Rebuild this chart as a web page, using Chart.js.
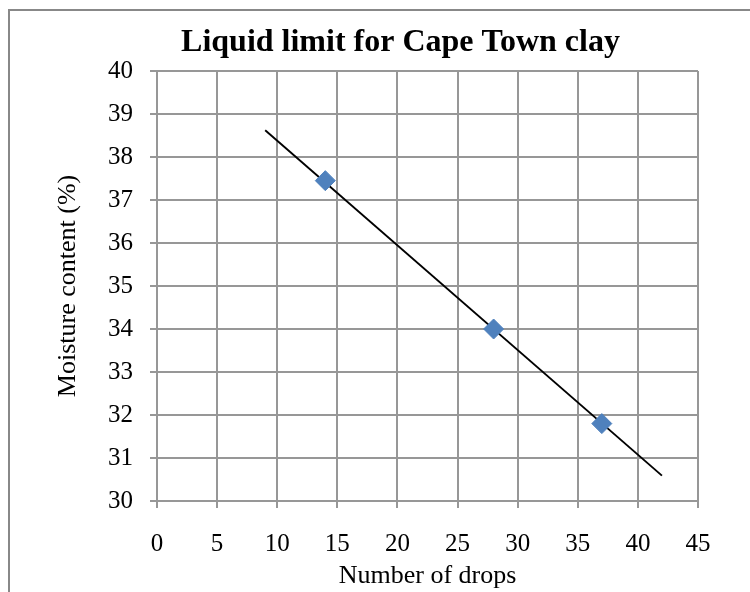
<!DOCTYPE html>
<html>
<head>
<meta charset="utf-8">
<script src="https://cdn.jsdelivr.net/npm/chart.js@4.4.0/dist/chart.umd.min.js"></script>
<style>
  html, body { margin: 0; padding: 0; background: #fff; }
  #wrap { width: 750px; height: 592px; position: relative; }
</style>
</head>
<body>
<div id="wrap"><canvas id="liquid-limit-chart"></canvas></div>
<script>
// measured points: drops vs moisture content
const drops = [14, 28, 37]
const moisture = [37.45, 34.0, 31.8]

// linear trendline end points
const trendDrops = [9, 42]
const trendMoisture = [38.62, 30.59]

const xMin = 0, xMax = 45, xStep = 5
const yMin = 30, yMax = 40, yStep = 1

const serif = "'Liberation Serif', 'Times New Roman', serif"
const gridGrey = '#979797'

// white background + the outer frame of the chart object
const framePlugin = {
  id: 'frame',
  beforeDraw(chart) {
    const ctx = chart.ctx
    ctx.save()
    ctx.fillStyle = '#fff'
    ctx.fillRect(0, 0, chart.width, chart.height)
    ctx.strokeStyle = '#888'
    ctx.lineWidth = 2
    ctx.strokeRect(9, 10, chart.width + 20, chart.height + 20)
    ctx.restore()
  }
}

const points = drops.map((d, i) => ({ x: d, y: moisture[i] }))
const trend = trendDrops.map((d, i) => ({ x: d, y: trendMoisture[i] }))

let llChart = new Chart(document.getElementById('liquid-limit-chart'), {
  type: 'scatter',
  data: {
    datasets: [
      {
        label: 'Moisture content',
        data: points,
        pointStyle: 'rectRot',
        pointRadius: 10,
        pointBackgroundColor: '#4f81bd',
        pointBorderColor: '#4f81bd',
        pointBorderWidth: 1,
        showLine: false,
        order: 1
      },
      {
        label: 'Linear trend',
        data: trend,
        showLine: true,
        borderColor: '#000',
        borderWidth: 1.9,
        pointRadius: 0,
        order: 2
      }
    ]
  },
  options: {
    responsive: true,
    maintainAspectRatio: false,
    animation: false,
    // left padding pushes the title centre over to the right
    layout: { padding: { left: 51, right: 0, top: 0, bottom: 0 } },
    plugins: {
      legend: { display: false },
      tooltip: { enabled: false },
      title: {
        display: true,
        text: 'Liquid limit for Cape Town clay',
        color: '#000',
        font: { family: serif, size: 32, weight: 'bold' },
        padding: { top: 24, bottom: 8.6 }
      }
    },
    scales: {
      x: {
        type: 'linear',
        min: xMin,
        max: xMax,
        ticks: { stepSize: xStep, color: '#000', padding: 21, font: { family: serif, size: 25 } },
        grid: { color: gridGrey, lineWidth: 2, tickLength: 7, tickColor: gridGrey },
        border: { color: gridGrey, width: 2 },
        title: {
          display: true,
          text: 'Number of drops',
          color: '#000',
          font: { family: serif, size: 26 },
          padding: { top: 0, bottom: 0 }
        },
        afterFit(scale) {
          scale.height = 91
          scale.paddingRight = 52
        }
      },
      y: {
        type: 'linear',
        min: yMin,
        max: yMax,
        ticks: { stepSize: yStep, color: '#000', padding: 17, font: { family: serif, size: 25 } },
        grid: { color: gridGrey, lineWidth: 2, tickLength: 7, tickColor: gridGrey },
        border: { color: gridGrey, width: 2 },
        title: {
          display: true,
          text: 'Moisture content (%)',
          color: '#000',
          font: { family: serif, size: 26 },
          padding: { top: 2, bottom: 0 }
        },
        afterFit(scale) { scale.width = 106 }
      }
    }
  },
  plugins: [framePlugin]
})
</script>
</body>
</html>
